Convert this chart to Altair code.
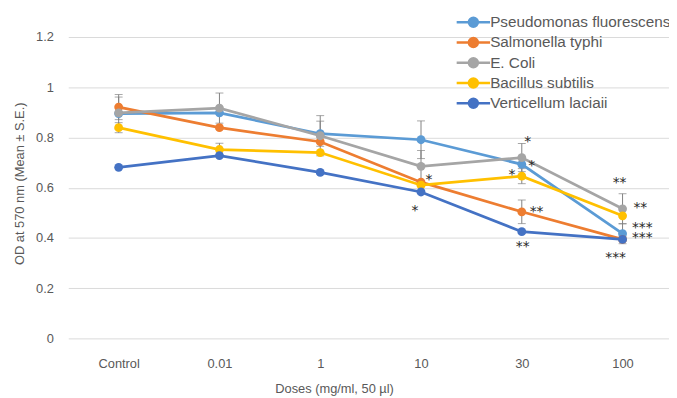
import altair as alt
import pandas as pd

doses = ["Control", "0.01", "1", "10", "30", "100"]
series_names = ["Pseudomonas fluorescens", "Salmonella typhi", "E. Coli",
                "Bacillus subtilis", "Verticellum laciaii"]
series_colors = ["#5B9BD5", "#ED7D31", "#A5A5A5", "#FFC000", "#4472C4"]

pseudomonas = [0.895, 0.898, 0.815, 0.791, 0.693, 0.417]
salmonella = [0.921, 0.839, 0.783, 0.622, 0.504, 0.394]
ecoli = [0.898, 0.917, 0.807, 0.685, 0.720, 0.516]
bacillus = [0.839, 0.752, 0.740, 0.610, 0.646, 0.488]
verticellum = [0.681, 0.728, 0.661, 0.583, 0.425, 0.394]

pseudomonas_se = [0.0, 0.0, 0.05, 0.075, 0.0, 0.04]
salmonella_se = [0.05, 0.0, 0.0, 0.0, 0.047, 0.0]
ecoli_se = [0.063, 0.06, 0.08, 0.063, 0.056, 0.06]
bacillus_se = [0.02, 0.025, 0.0, 0.0, 0.03, 0.0]
verticellum_se = [0.0, 0.0, 0.0, 0.0, 0.0, 0.0]

# significance marks
star_series = ["Salmonella typhi", "Verticellum laciaii", "E. Coli", "Pseudomonas fluorescens",
               "Bacillus subtilis", "Salmonella typhi", "Verticellum laciaii", "E. Coli",
               "Bacillus subtilis", "Pseudomonas fluorescens", "Salmonella typhi", "Verticellum laciaii"]
star_dose = ["10", "10", "30", "30", "30", "30", "30", "100", "100", "100", "100", "100"]
star_text = ["*", "*", "*", "*", "*", "**", "**", "**", "**", "***", "***", "***"]
star_dx = [8, -6, 6, 10, -10, 15, 1, -3, 18, 20, 20, -7]
star_dy = [-6, 15, -20, -2, -5, -4, 12, -30, -12, -10, -5, 15]

values = [pseudomonas, salmonella, ecoli, bacillus, verticellum]
errors = [pseudomonas_se, salmonella_se, ecoli_se, bacillus_se, verticellum_se]

rows = []
for name, vals, ses in zip(series_names, values, errors):
    for d, v, s in zip(doses, vals, ses):
        rows.append({"series": name, "dose": d, "od": v, "se": s, "lo": v - s, "hi": v + s})
df = pd.DataFrame(rows)
df_err = df[df["se"] > 0]

FONT = "Liberation Sans"
TXT = "#595959"

x_enc = alt.X("dose:N", sort=doses,
              scale=alt.Scale(type="point", padding=0.5, range=[0, 612]),
              axis=alt.Axis(title="Doses (mg/ml, 50 µl)", labelAngle=0, ticks=False, domain=False,
                            grid=False, labelFont=FONT, labelFontSize=13, labelColor=TXT,
                            labelPadding=19, titleFont=FONT, titleFontSize=13, titleColor=TXT,
                            titleFontWeight="normal", titleX=269, titleY=51, titleAlign="center",
                            titleBaseline="middle"))
y_axis = alt.Axis(title="OD at 570 nm (Mean ± S.E.)", values=[0, 0.2, 0.4, 0.6, 0.8, 1.0, 1.2],
                  format="~g", grid=True, gridColor="#D9D9D9", gridWidth=1, domain=False,
                  ticks=False, labelFont=FONT, labelFontSize=13, labelColor=TXT, labelPadding=15,
                  titleFont=FONT, titleFontSize=13, titleColor=TXT, titleFontWeight="normal",
                  titleX=-49, titleY=148, titleAlign="center", titleBaseline="middle")
y_scale = alt.Scale(domain=[0, 1.2], nice=False)

legend = alt.Legend(
    title=None, orient="none", legendX=402, legendY=-23,
    symbolType="M-2.6,0L2.6,0M-0.7,0A0.7,0.7,0,1,1,0.7,0A0.7,0.7,0,1,1,-0.7,0Z",
    symbolSize=169, symbolStrokeWidth=2.5, symbolOpacity=1,
    labelFont=FONT, labelFontSize=15.5, labelColor=TXT, labelOffset=9, rowPadding=0.5,
    labelLimit=400,
)
color_enc = alt.Color("series:N", scale=alt.Scale(domain=series_names, range=series_colors),
                      legend=legend)

base = alt.Chart(df)

err_rule = alt.Chart(df_err).mark_rule(color="#808080", strokeWidth=1).encode(
    x=x_enc, y=alt.Y("lo:Q", scale=y_scale, axis=y_axis), y2="hi:Q")
cap_lo = alt.Chart(df_err).mark_tick(color="#808080", thickness=1, size=8).encode(
    x=x_enc, y=alt.Y("lo:Q", scale=y_scale, axis=y_axis))
cap_hi = alt.Chart(df_err).mark_tick(color="#808080", thickness=1, size=8).encode(
    x=x_enc, y=alt.Y("hi:Q", scale=y_scale, axis=y_axis))

layers = [err_rule, cap_lo, cap_hi]
for name in series_names:
    sub = base.transform_filter(alt.datum.series == name)
    layers.append(sub.mark_line(strokeWidth=2.75).encode(
        x=x_enc, y=alt.Y("od:Q", scale=y_scale, axis=y_axis), color=color_enc))
    layers.append(sub.mark_point(filled=True, size=80, opacity=1).encode(
        x=x_enc, y=alt.Y("od:Q", scale=y_scale, axis=y_axis), color=color_enc))

for s, d, t, dx, dy in zip(star_series, star_dose, star_text, star_dx, star_dy):
    v = values[series_names.index(s)][doses.index(d)]
    sdf = pd.DataFrame({"dose": [d], "od": [v]})
    layers.append(alt.Chart(sdf).mark_text(text=t, dx=dx, dy=dy + 8, baseline="alphabetic",
                                           align="center", font="DejaVu Sans", fontSize=14,
                                           fill="#262626", color="#262626").encode(
        x=x_enc, y=alt.Y("od:Q", scale=y_scale, axis=y_axis)))

chart = alt.layer(*layers).properties(
    width=608, height=305,
    autosize=alt.AutoSizeParams(type="none"),
    padding={"left": 61, "top": 27, "right": 0, "bottom": 61},
    background="white",
).configure_view(strokeWidth=0)

chart.save("out.html", embed_options={"renderer": "svg", "actions": False})
